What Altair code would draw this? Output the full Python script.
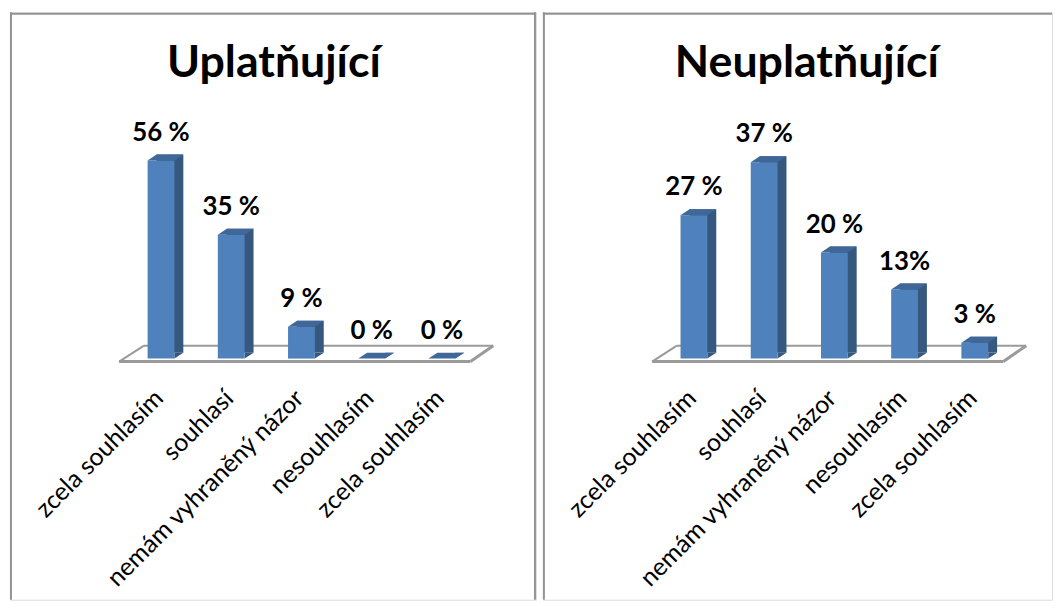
import altair as alt
import pandas as pd

# ---- data ----
categories = ["zcela souhlasím", "souhlasí", "nemám vyhraněný názor", "nesouhlasím", "zcela souhlasím"]
titles = ["Uplatňující", "Neuplatňující"]
values_upl = [56, 35, 9, 0, 0]
values_neupl = [27, 37, 20, 13, 3]
labels_upl = ["56 %", "35 %", "9 %", "0 %", "0 %"]
labels_neupl = ["27 %", "37 %", "20 %", "13%", "3 %"]
y_max = [60, 40]

FRONT = "#4F81BD"
SIDE = "#36587F"
TOP = "#3F6899"
BORDER = "#939393"
FLOOR = "#9A9A9A"
FONT = "Lato"

H = 592
X_RANGE = [116.8, 470.55]   # pixel range of the category slots
Y_RANGE = [349, 135]        # pixel range of the value axis
STEP = (X_RANGE[1] - X_RANGE[0]) / len(categories)
HALF_W = 13.5 / STEP        # half bar width in slot units
DXU = 9 / STEP              # depth offset (x) in slot units
LABEL_DX = -2 / STEP        # category label anchor shift
LABEL_Y = 385


def panel(values, labels, title, ymax, width, right_border):
    n = len(categories)
    df = pd.DataFrame({"idx": list(range(n)), "cat": categories, "value": values, "label": labels})
    dyu = 6 * ymax / (Y_RANGE[0] - Y_RANGE[1])
    xs = alt.Scale(domain=[-0.5, n - 0.5], range=X_RANGE, nice=False, zero=False)
    ys = alt.Scale(domain=[0, ymax], range=Y_RANGE, nice=False, zero=False)

    base = alt.Chart(df).transform_calculate(
        x0=f"datum.idx - {HALF_W}", x1=f"datum.idx + {HALF_W}",
        bx0=f"datum.idx - {HALF_W} + {DXU}", bx1=f"datum.idx + {HALF_W} + {DXU}",
        by0=f"{dyu}", by1=f"datum.value + {dyu}", zero="0",
        lx=f"datum.idx + {LABEL_DX}",
    )

    fl = alt.Chart(df).transform_filter("datum.idx == 0")
    floor = [
        fl.mark_rule(color=FLOOR, strokeWidth=2).encode(x=alt.value(135), x2=alt.value(487), y=alt.value(336), y2=alt.value(336)),
        fl.mark_rule(color=FLOOR, strokeWidth=3).encode(x=alt.value(110), x2=alt.value(464), y=alt.value(352), y2=alt.value(352)),
        fl.mark_rule(color=FLOOR, strokeWidth=2).encode(x=alt.value(110), x2=alt.value(135), y=alt.value(352), y2=alt.value(336)),
        fl.mark_rule(color=FLOOR, strokeWidth=3).encode(x=alt.value(464), x2=alt.value(487), y=alt.value(352), y2=alt.value(336)),
    ]

    back = base.mark_rect(color=SIDE).encode(
        x=alt.X("bx0:Q", scale=xs, axis=None), x2="bx1:Q",
        y=alt.Y("by1:Q", scale=ys, axis=None), y2="by0:Q")
    tri = base.mark_point(shape="M13.5,-6L13.5,0L22.5,-6Z", size=4, filled=True, color=SIDE,
                          opacity=1, strokeWidth=0).encode(
        x=alt.X("idx:Q", scale=xs, axis=None), y=alt.Y("zero:Q", scale=ys, axis=None))
    front = base.mark_rect(color=FRONT).encode(
        x=alt.X("x0:Q", scale=xs, axis=None), x2="x1:Q",
        y=alt.Y("value:Q", scale=ys, axis=None), y2="zero:Q")
    top = base.mark_point(shape="M-13.5,0L13.5,0L22.5,-6L-4.5,-6Z", size=4, filled=True, color=TOP,
                          opacity=1, strokeWidth=0).encode(
        x=alt.X("idx:Q", scale=xs, axis=None), y=alt.Y("value:Q", scale=ys, axis=None))
    vlabels = base.mark_text(font=FONT, fontSize=26, fontWeight="bold", color="#000000",
                             baseline="alphabetic", align="center", dy=-20).encode(
        x=alt.X("idx:Q", scale=xs, axis=None), y=alt.Y("value:Q", scale=ys, axis=None), text="label:N")
    clabels = base.mark_text(font=FONT, fontSize=25, color="#000000", angle=315, align="right",
                             baseline="middle").encode(
        x=alt.X("lx:Q", scale=xs, axis=None), y=alt.value(LABEL_Y), text="cat:N")
    ttl = fl.transform_calculate(t=f"'{title}'").mark_text(
        font=FONT, fontSize=45, fontWeight="bold", color="#000000", align="center", baseline="alphabetic"
    ).encode(x=alt.value(266), y=alt.value(65), text="t:N")

    borders = [
        fl.mark_rule(color=BORDER, strokeWidth=2).encode(x=alt.value(0), x2=alt.value(width), y=alt.value(1.5), y2=alt.value(1.5)),
        fl.mark_rule(color=BORDER, strokeWidth=2).encode(x=alt.value(1), x2=alt.value(1), y=alt.value(0), y2=alt.value(H)),
    ]
    if right_border:
        borders.append(fl.mark_rule(color=BORDER, strokeWidth=2).encode(
            x=alt.value(width - 1), x2=alt.value(width - 1), y=alt.value(0), y2=alt.value(H)))

    layers = floor + [back, tri, front, top, vlabels, clabels, ttl] + borders
    return alt.layer(*layers).properties(width=width, height=H)


p1 = panel(values_upl, labels_upl, titles[0], y_max[0], 530, True)
p2 = panel(values_neupl, labels_neupl, titles[1], y_max[1], 513, False)

chart = alt.hconcat(p1, p2, spacing=3).properties(padding=0).configure_view(strokeWidth=0).configure(
    background="#ffffff")

chart.save("out.html", embed_options={"renderer": "svg", "actions": False})
